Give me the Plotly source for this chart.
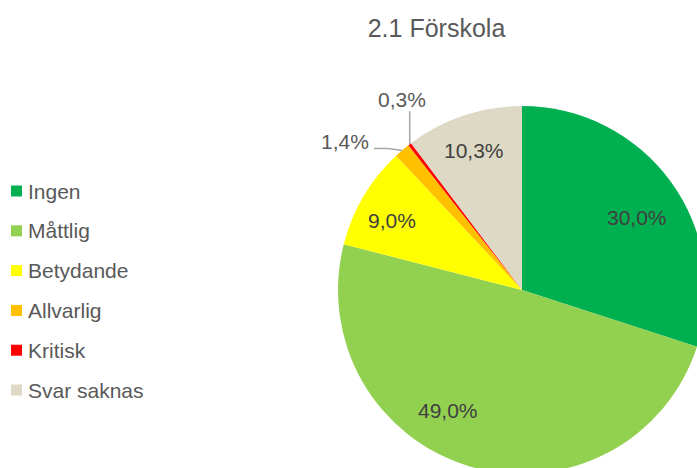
import math
import plotly.graph_objects as go

# data (2.1 Förskola)
categories = ["Ingen", "Måttlig", "Betydande", "Allvarlig", "Kritisk", "Svar saknas"]
values = [30.0, 49.0, 9.0, 1.4, 0.3, 10.3]
colors = ["#00B050", "#92D050", "#FFFF00", "#FFC000", "#FF0000", "#DDD9C4"]

# figure is a bit larger than the 697x468 window so the pie gets cut
# at the right and bottom edge like in the original
W, H = 712, 480
FONT = "Liberation Sans, Arial, sans-serif"

# pie geometry in pixels
CX, CY, R = 522.0, 290.0, 184.0

# label layout: radial fraction and small angle nudge (deg) per slice,
# None = labelled outside with a leader line
label_frac = [0.74, 0.77, 0.80, None, None, 0.80]
label_nudge = [4.0, 15.5, -2.6, 0.0, 0.0, -0.5]
# outside labels: text offset from slice edge and leader path offsets
outside_text = {3: (-57, -9), 4: (-8, -45)}
outside_path = {3: [(0, 0), (-14, -2), (-28, -2)], 4: [(0, 0), (0, -33)]}


def px(x, y):
    return x / W, 1 - y / H


fig = go.Figure()
fig.add_trace(go.Pie(
    labels=categories,
    values=values,
    sort=False,
    direction="clockwise",
    rotation=0,
    marker=dict(colors=colors, line=dict(width=0)),
    textinfo="none",
    showlegend=False,
    hoverinfo="label+percent",
    domain=dict(x=[(CX - R) / W, (CX + R) / W], y=[1 - (CY + R) / H, 1 - (CY - R) / H]),
))

total = sum(values)
cum = 0.0
for i, v in enumerate(values):
    mid = (cum + v / 2) / total * 360.0
    cum += v
    txt = f"{v / total * 100:.1f}%".replace(".", ",")
    if label_frac[i] is not None:
        a = math.radians(mid + label_nudge[i])
        lx = CX + label_frac[i] * R * math.sin(a)
        ly = CY - label_frac[i] * R * math.cos(a)
        x, y = px(lx, ly)
        fig.add_annotation(xref="paper", yref="paper", x=x, y=y, text=txt,
                           showarrow=False, xanchor="center", yanchor="middle",
                           font=dict(family=FONT, size=21, color="#404040"))
    else:
        a = math.radians(mid)
        ex = CX + R * math.sin(a)
        ey = CY - R * math.cos(a)
        pts = [px(ex + dx, ey + dy) for dx, dy in outside_path[i]]
        path = "M " + " L ".join(f"{p[0]:.5f},{p[1]:.5f}" for p in pts)
        fig.add_shape(type="path", xref="paper", yref="paper", path=path,
                      line=dict(color="#A6A6A6", width=1.5))
        tx, ty = outside_text[i]
        x, y = px(ex + tx, ey + ty)
        fig.add_annotation(xref="paper", yref="paper", x=x, y=y, text=txt,
                           showarrow=False, xanchor="center", yanchor="middle",
                           font=dict(family=FONT, size=21, color="#595959"))

# legend drawn by hand so the rows can be spaced like the original
for i, (name, col) in enumerate(zip(categories, colors)):
    yc = 191 + i * 39.8
    x0, y0 = px(11, yc + 5.5)
    x1, y1 = px(22, yc - 5.5)
    fig.add_shape(type="rect", xref="paper", yref="paper",
                  x0=x0, x1=x1, y0=y0, y1=y1, fillcolor=col, line=dict(width=0))
    tx, ty = px(26, yc)
    fig.add_annotation(xref="paper", yref="paper", x=tx, y=ty,
                       xanchor="left", yanchor="middle", showarrow=False,
                       text=name, font=dict(family=FONT, size=21, color="#595959"))

tx, ty = px(436.5, 28.5)
fig.update_layout(
    width=W, height=H,
    margin=dict(l=0, r=0, t=0, b=0),
    paper_bgcolor="white",
    title=dict(text="2.1 Förskola", x=tx, xanchor="center", y=ty,
               yanchor="middle", font=dict(family=FONT, size=25, color="#595959")),
)

# no page margin and no scrollbars, the window just crops the figure
fig.write_html(
    "out.html",
    config={"displayModeBar": False},
    post_script="document.body.style.margin='0';"
                "document.body.style.overflow='hidden';"
                "document.documentElement.style.overflow='hidden';",
)
